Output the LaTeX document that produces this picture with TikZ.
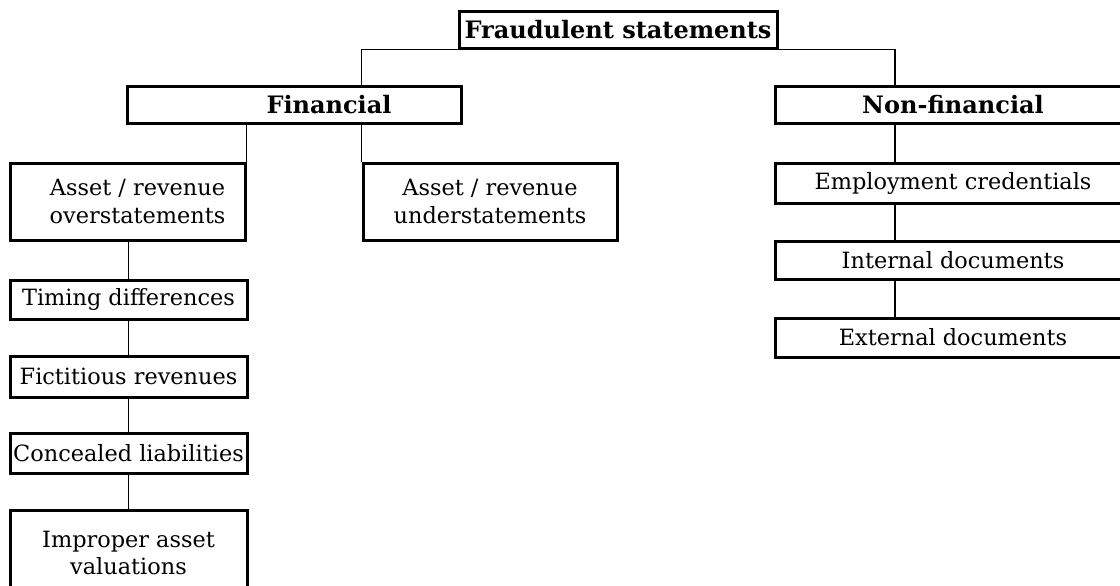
\documentclass[tikz,border=0pt]{standalone}
\usepackage{fontspec}
\setmainfont{DejaVu Serif}
\usepackage{tikz}

\begin{document}
\begin{tikzpicture}[x=0.5pt,y=-0.5pt,
    box/.style={draw=black,line width=1.5pt,inner sep=0pt,align=center,font=\fontsize{11.2}{13.8}\selectfont},
    head/.style={box,font=\fontsize{12}{14}\selectfont\bfseries},
    link/.style={draw=black,line width=0.8pt}]
    \useasboundingbox (0,0) rectangle (1120,585);
    \clip (0,0) rectangle (1120,585);
    % top and second level
    \node[head,minimum width=159pt,minimum height=18.5pt] (fraud) at (618,29.5) {Fraudulent statements};
    \node[head,minimum width=167pt,minimum height=18.5pt,label={[font=\fontsize{12}{14}\selectfont\bfseries,xshift=17.5pt]center:Financial}] (fin) at (294,104.5) {};
    \node[head,minimum width=178pt,minimum height=18.5pt] (nonfin) at (953,104.5) {Non-financial};
    % financial branch
    \node[box,minimum width=117.5pt,minimum height=38.5pt] (over) at (127.5,201.5) {\hspace*{10pt}Asset / revenue\\\hspace*{10pt}overstatements};
    \node[box,minimum width=127pt,minimum height=38.5pt] (under) at (490,201.5) {Asset / revenue\\understatements};
    \node[box,minimum width=118.5pt,minimum height=19.5pt] (timing) at (128.5,299.5) {Timing differences};
    \node[box,minimum width=118.5pt,minimum height=20.5pt] (fict) at (128.5,376.5) {Fictitious revenues};
    \node[box,minimum width=118.5pt,minimum height=20pt] (conc) at (128.5,453) {Concealed liabilities};
    \node[box,minimum width=118.5pt,minimum height=43pt] (impr) at (128.5,553) {Improper asset\\valuations};
    % non-financial branch
    \node[box,minimum width=178pt,minimum height=20pt] (empl) at (953,183) {Employment credentials};
    \node[box,minimum width=178pt,minimum height=19pt] (intl) at (953,260) {Internal documents};
    \node[box,minimum width=178pt,minimum height=19.5pt] (extl) at (953,337.5) {External documents};
    \coordinate (rspine) at (895,0);
    % connectors
    \draw[link] (fraud.south west) -| (under.north west |- fin.north);
    \draw[link] (fraud.south east) -| (rspine |- nonfin.north);
    \draw[link] (over.north east |- fin.south) -- (over.north east);
    \draw[link] (under.north west |- fin.south) -- (under.north west);
    \draw[link] (timing.north |- over.south) -- (timing.north);
    \draw[link] (timing.south) -- (fict.north);
    \draw[link] (fict.south) -- (conc.north);
    \draw[link] (conc.south) -- (impr.north);
    \draw[link] (rspine |- nonfin.south) -- (rspine |- empl.north);
    \draw[link] (rspine |- empl.south) -- (rspine |- intl.north);
    \draw[link] (rspine |- intl.south) -- (rspine |- extl.north);
\end{tikzpicture}
\end{document}
